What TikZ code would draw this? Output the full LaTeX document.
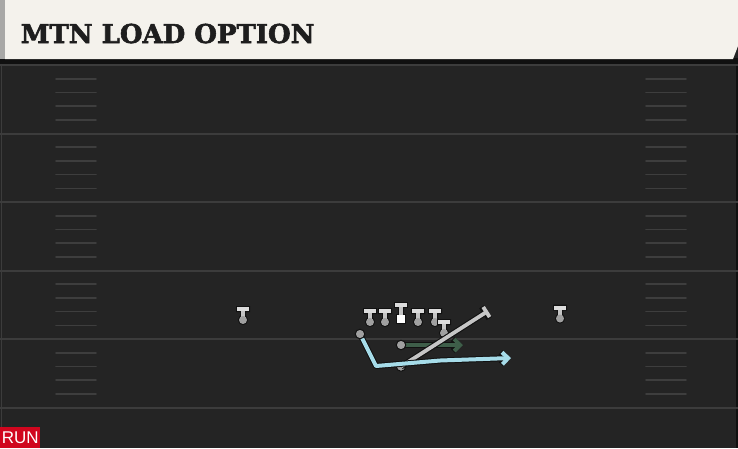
\documentclass[tikz,border=0pt]{standalone}
\usepackage{fontspec}
\usetikzlibrary{arrows.meta}
\newfontfamily\titlefont[BoldFeatures={FakeBold=2.2}]{DejaVu Serif}
\newfontfamily\runfont{Liberation Sans}
\definecolor{field}{HTML}{242424}
\definecolor{band}{HTML}{101010}
\definecolor{cream}{HTML}{F4F2EC}
\definecolor{stripc}{HTML}{A8A8A6}
\definecolor{titlec}{HTML}{1E1E1E}
\definecolor{yardc}{HTML}{3C3C3C}
\definecolor{hashc}{HTML}{3E3E3E}
\definecolor{runred}{HTML}{D0061E}
\definecolor{outl}{HTML}{111111}
\definecolor{tbar}{HTML}{DCDCDC}
\definecolor{tstem}{HTML}{C4C4C4}
\definecolor{tdot}{HTML}{A0A0A0}
\definecolor{routeblue}{HTML}{A6DCE9}
\definecolor{routegreen}{HTML}{3E5E49}
\definecolor{routegray}{HTML}{C6C6C6}
\tikzset{
  yardline/.style={draw=yardc, line width=2pt},
  hashmark/.style={draw=hashc, line width=1.6pt, line cap=round},
  tplayer/.pic={
    \path[draw=outl, line width=2pt, fill=outl] (-6,-13) rectangle (6,-8.8) (-2,-8.8) rectangle (2,0) (0,0) circle (4);
    \fill[tbar] (-6,-13) rectangle (6,-8.8);
    \fill[tstem] (-2,-9) rectangle (2,0);
    \fill[tdot] (0,0) circle (4);
  },
  cplayer/.pic={
    \path[draw=outl, line width=2pt, fill=outl] (-6,-15.5) rectangle (6,-11.3) (-2,-11.3) rectangle (2,-4) (-4,-4) rectangle (4,4);
    \fill[tbar] (-6,-15.5) rectangle (6,-11.3);
    \fill[tstem] (-2,-11.5) rectangle (2,-4);
    \fill[white] (-4,-4) rectangle (4,4);
  },
  dotc/.style={circle, fill=tdot, draw=outl, line width=1pt, minimum size=9.5pt, inner sep=0pt},
  underlay/.style={draw=outl, line width=6pt},
  bluer/.style={draw=routeblue, line width=4pt, line join=round},
  greenr/.style={draw=routegreen, line width=4pt},
  grayr/.style={draw=routegray, line width=3.8pt},
}
\begin{document}
\begin{tikzpicture}[x=1pt,y=-1pt]
\useasboundingbox (0,0) rectangle (738,448);
\fill[field] (0,0) rectangle (738,448);
% header
\fill[band] (0,58) rectangle (738,63.5);
\fill[cream] (5,0) -- (738,0) -- (738,46) -- (733,59) -- (5,59) -- cycle;
\fill[stripc] (0,0) rectangle (5,59);
\node[anchor=base west, inner sep=0pt, text=titlec,
      font=\titlefont\bfseries\fontsize{26}{26}\selectfont] (title) at (20.5,43) {MTN LOAD OPTION};
% field edges
\draw[draw=yardc, line width=1pt] (1.5,63.5) -- (1.5,448);
\draw[draw=band, line width=2pt] (737,63.5) -- (737,448);
% yard lines
\foreach \y in {65,133.5,202,270.5,339,407.5} {
  \draw[yardline] (0,\y) -- (738,\y);
}
% hash marks
\foreach \i in {0,...,4} {
  \foreach \k in {1,...,4} {
    \pgfmathsetmacro\yy{65+68.5*\i+13.7*\k}
    \draw[hashmark] (56,\yy) -- (96,\yy);
    \draw[hashmark] (646,\yy) -- (686,\yy);
  }
}
% RUN tag
\node[fill=runred, text=white, anchor=south west, minimum width=40pt, minimum height=20.5pt,
      inner sep=0pt, font=\runfont\fontsize{17}{17}\selectfont] (run) at (0,448) {RUN};
% players
\pic at (243,320) {tplayer};
\pic at (560,318.5) {tplayer};
\pic at (370,322) {tplayer};
\pic at (385,322) {tplayer};
\pic at (418,322) {tplayer};
\pic at (435,322) {tplayer};
\pic at (444,333) {tplayer};
\pic at (401,318.5) {cplayer};
% backfield
\node[dotc] (rb) at (401,366.5) {};
\coordinate (bv) at (376,366);
\coordinate (bm) at (440,360.5);
\coordinate (bend) at (511,358);
\coordinate (gend) at (463,345);
\coordinate (kend) at (488,311);
\coordinate (hstart) at (360,334);
\coordinate (qbc) at (401,345);
% green arrow
\draw[underlay, -{Straight Barb[length=6pt,width=12pt]}] (qbc) -- (gend);
\draw[greenr, -{Straight Barb[length=6pt,width=12pt]}] (qbc) -- (gend);
% gray block
\draw[underlay, -{Bar[width=14pt]}] (rb.center) -- (kend);
\draw[grayr, -{Bar[width=12pt]}] (rb.center) -- (kend);
% blue route
\draw[underlay, line join=round, -{Straight Barb[length=6pt,width=12pt]}] (hstart) -- (bv) -- (bm) -- (bend);
\draw[bluer, -{Straight Barb[length=6pt,width=12pt]}] (hstart) -- (bv) -- (bm) -- (bend);
\node[dotc] (qb) at (qbc) {};
\node[dotc] (hb) at (hstart) {};
\end{tikzpicture}
\end{document}
